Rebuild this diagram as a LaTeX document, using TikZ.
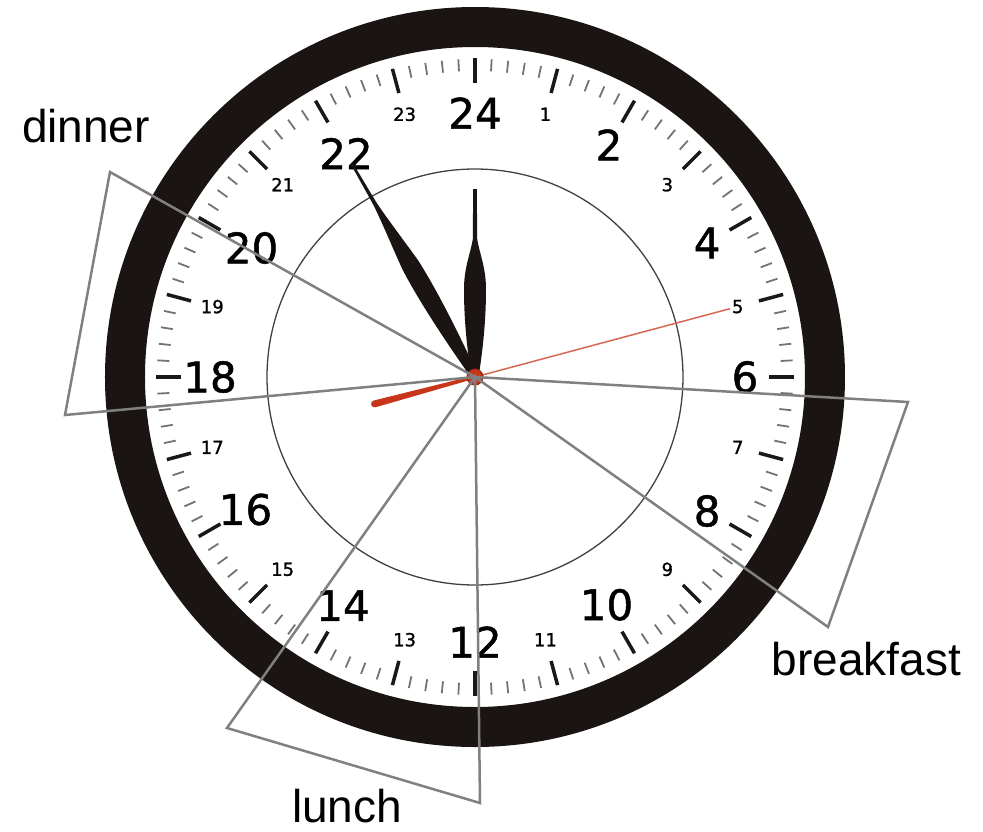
\documentclass[tikz,border=0pt]{standalone}
\usepackage{fontspec}
\setmainfont{Liberation Sans}
\newfontfamily\dialfont[FakeBold=1.2]{DejaVu Sans}
\usepackage{tikz}

\definecolor{rimblack}{HTML}{1A1412}
\definecolor{handred}{HTML}{C8361A}
\definecolor{wedgegray}{HTML}{808080}

\tikzset{
  wedge/.style={draw=wedgegray, line width=2.5pt},
  meal/.style={font=\fontsize{46}{50}\selectfont, inner sep=0pt, anchor=base},
  bignum/.style={font=\dialfont\fontsize{42}{46}\selectfont, inner sep=0pt},
  smallnum/.style={font=\dialfont\fontsize{18}{22}\selectfont, inner sep=0pt},
}

\begin{document}
\begin{tikzpicture}[x=1pt, y=1pt]
  \useasboundingbox (-475,-454) rectangle (508,377);
  % Rim
  \fill[rimblack, even odd rule] (0,0) circle (370) (0,0) circle (330);
  % Inner ring
  \draw[black!75, line width=1.3pt] (0,0) circle (208);
  % Minute ticks
  \foreach \i in {0,...,119}
    \draw[black!55, line width=1.8pt] (\i*3:306) -- (\i*3:318);
  % Hour ticks
  \foreach \h in {0,...,23}
    \draw[black!90, line width=3.5pt] (90-\h*15:294) -- (90-\h*15:319);
  % Numbers
  \foreach \h/\r in {2/268,4/268,6/270,8/268,10/263,12/265,14/264,16/265,18/265,20/258,22/258,24/264}
    \node[bignum] (num\h) at (90-\h*15:\r) {\h};
  \foreach \h in {1,3,...,23}
    \node[smallnum] (num\h) at (90-\h*15:272) {\h};
  % Hour hand
  \fill[rimblack, rotate=120] (0,-3.5) .. controls (70,-10) and (110,-10) .. (130,-9)
    .. controls (160,-6) and (190,-2) .. (205,-1.8) -- (246,-1.2) -- (246,1.2) -- (205,1.8)
    .. controls (190,2) and (160,6) .. (130,9) .. controls (110,10) and (70,10) .. (0,3.5) -- cycle;
  % Minute hand
  \fill[rimblack, rotate=90] (0,-3.5) .. controls (40,-10) and (70,-11) .. (88,-11)
    .. controls (110,-11) and (125,-4) .. (138,-2.2) -- (188,-1.8) -- (188,1.8) -- (138,2.2)
    .. controls (125,4) and (110,11) .. (88,11) .. controls (70,11) and (40,10) .. (0,3.5) -- cycle;
  % Second hand
  \draw[handred!75, line width=1.5pt] (0,0) -- (15:264);
  \fill[handred, rotate=195] (0,-1.5) -- (104,-3.5) arc (-90:90:3.5) -- (0,1.5) -- cycle;
  \filldraw[fill=handred, draw=handred!70!black, line width=1pt] (0,0) circle (8);
  % Meal wedges
  \coordinate (ctr) at (0,0);
  \coordinate (dinA) at (-365,205);
  \coordinate (dinB) at (-410,-38);
  \coordinate (bfA) at (433,-25);
  \coordinate (bfB) at (353,-250);
  \coordinate (luA) at (-248,-351);
  \coordinate (luB) at (5,-426);
  \draw[wedge] (ctr) -- (dinA) -- (dinB) -- cycle;
  \draw[wedge] (ctr) -- (bfA) -- (bfB) -- cycle;
  \draw[wedge] (ctr) -- (luA) -- (luB) -- cycle;
  % Labels
  \node[meal] (dinner) at (-389,235) {dinner};
  \node[meal] (breakfast) at (391.5,-298) {breakfast};
  \node[meal] (lunch) at (-128,-445) {lunch};
\end{tikzpicture}
\end{document}
